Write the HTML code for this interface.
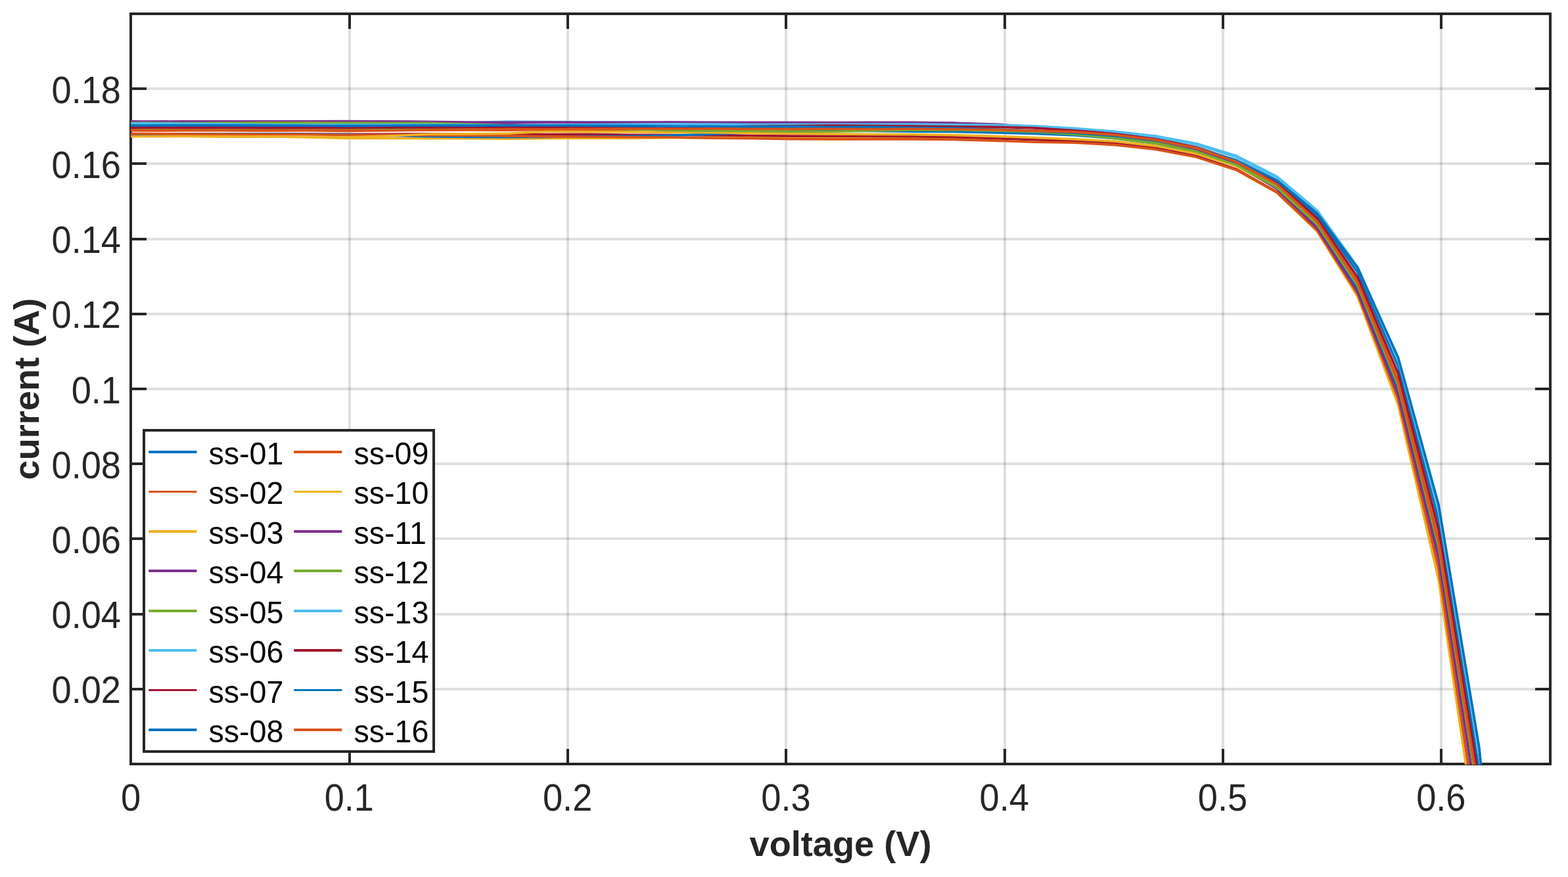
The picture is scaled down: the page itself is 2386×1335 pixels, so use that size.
<!DOCTYPE html>
<html lang="en"><head><meta charset="utf-8"><title>I-V curves</title>
<style>html,body{margin:0;padding:0;background:#fff}body{width:2386px;height:1335px;overflow:hidden}svg{display:block}</style>
</head><body>
<svg width="2386" height="1335" viewBox="0 0 2386 1335" role="img" aria-label="I-V curves: current (A) versus voltage (V) for samples ss-01 to ss-16">
<rect width="2386" height="1335" fill="#fff"/>
<defs><clipPath id="ax"><rect x="199" y="21" width="2160" height="1143"/></clipPath></defs>
<g stroke="#262626" stroke-opacity="0.15" stroke-width="4" fill="none">
<line x1="532" y1="21" x2="532" y2="1163"/>
<line x1="864" y1="21" x2="864" y2="1163"/>
<line x1="1196" y1="21" x2="1196" y2="1163"/>
<line x1="1529" y1="21" x2="1529" y2="1163"/>
<line x1="1861" y1="21" x2="1861" y2="1163"/>
<line x1="2193" y1="21" x2="2193" y2="1163"/>
<line x1="199" y1="1049" x2="2359" y2="1049"/>
<line x1="199" y1="935" x2="2359" y2="935"/>
<line x1="199" y1="820" x2="2359" y2="820"/>
<line x1="199" y1="706" x2="2359" y2="706"/>
<line x1="199" y1="592" x2="2359" y2="592"/>
<line x1="199" y1="478" x2="2359" y2="478"/>
<line x1="199" y1="364" x2="2359" y2="364"/>
<line x1="199" y1="249" x2="2359" y2="249"/>
<line x1="199" y1="135" x2="2359" y2="135"/>
</g>
<g stroke="#262626" stroke-width="4" fill="none" stroke-linecap="butt">
<rect x="199" y="21" width="2160" height="1142"/>
<line x1="532" y1="1163" x2="532" y2="1140"/>
<line x1="532" y1="21" x2="532" y2="44"/>
<line x1="864" y1="1163" x2="864" y2="1140"/>
<line x1="864" y1="21" x2="864" y2="44"/>
<line x1="1196" y1="1163" x2="1196" y2="1140"/>
<line x1="1196" y1="21" x2="1196" y2="44"/>
<line x1="1529" y1="1163" x2="1529" y2="1140"/>
<line x1="1529" y1="21" x2="1529" y2="44"/>
<line x1="1861" y1="1163" x2="1861" y2="1140"/>
<line x1="1861" y1="21" x2="1861" y2="44"/>
<line x1="2193" y1="1163" x2="2193" y2="1140"/>
<line x1="2193" y1="21" x2="2193" y2="44"/>
<line x1="199" y1="1049" x2="223" y2="1049"/>
<line x1="2359" y1="1049" x2="2336" y2="1049"/>
<line x1="199" y1="935" x2="223" y2="935"/>
<line x1="2359" y1="935" x2="2336" y2="935"/>
<line x1="199" y1="820" x2="223" y2="820"/>
<line x1="2359" y1="820" x2="2336" y2="820"/>
<line x1="199" y1="706" x2="223" y2="706"/>
<line x1="2359" y1="706" x2="2336" y2="706"/>
<line x1="199" y1="592" x2="223" y2="592"/>
<line x1="2359" y1="592" x2="2336" y2="592"/>
<line x1="199" y1="478" x2="223" y2="478"/>
<line x1="2359" y1="478" x2="2336" y2="478"/>
<line x1="199" y1="364" x2="223" y2="364"/>
<line x1="2359" y1="364" x2="2336" y2="364"/>
<line x1="199" y1="249" x2="223" y2="249"/>
<line x1="2359" y1="249" x2="2336" y2="249"/>
<line x1="199" y1="135" x2="223" y2="135"/>
<line x1="2359" y1="135" x2="2336" y2="135"/>
</g>
<g clip-path="url(#ax)" fill="none" stroke-width="3.6" stroke-linejoin="round">
<polyline stroke="#0072BD" points="196.0,191.6 218.8,191.8 280.4,191.7 342.0,191.7 403.6,191.7 465.2,191.5 526.8,192.1 588.4,191.8 650.0,191.2 711.6,191.1 773.2,191.0 834.8,191.3 896.4,191.9 958.0,192.2 1019.6,192.9 1081.2,192.7 1142.8,193.2 1204.4,193.6 1266.0,193.5 1327.6,194.3 1389.2,195.1 1450.8,195.5 1512.4,197.2 1574.0,199.2 1635.6,202.5 1697.2,207.5 1758.8,214.3 1820.4,225.7 1881.6,244.5 1942.8,275.8 2004.3,327.9 2066.0,414.7 2127.6,557.8 2189.2,792.2 2250.8,1172.1 2312.4,1776.5"/>
<polyline stroke="#D95319" points="196.0,198.6 218.8,198.9 280.4,198.8 342.0,198.7 403.6,198.9 465.2,198.8 526.8,199.4 588.4,198.5 650.0,198.3 711.6,198.0 773.2,198.3 834.8,197.4 896.4,197.2 958.0,197.1 1019.6,196.9 1081.2,197.4 1142.8,197.3 1204.4,196.9 1266.0,196.9 1327.6,197.3 1389.2,197.3 1450.8,198.2 1512.4,198.7 1574.0,201.0 1635.6,203.4 1697.2,208.1 1758.8,215.3 1820.4,227.4 1881.6,247.5 1942.8,280.8 2004.3,336.4 2066.0,428.5 2127.6,578.9 2189.2,821.4 2250.8,1203.1 2312.4,1785.2"/>
<polyline stroke="#EDB120" points="196.0,206.7 218.8,207.2 280.4,207.2 342.0,207.4 403.6,208.0 465.2,208.8 526.8,210.4 588.4,210.5 650.0,210.7 711.6,210.7 773.2,211.2 834.8,210.8 896.4,210.5 958.0,210.5 1019.6,209.7 1081.2,209.6 1142.8,209.6 1204.4,209.5 1266.0,209.4 1327.6,209.7 1389.2,209.8 1450.8,209.4 1512.4,210.6 1574.0,212.1 1635.6,215.1 1697.2,219.6 1758.8,226.6 1820.4,238.5 1881.6,258.8 1942.8,293.3 2004.3,352.2 2066.0,451.8 2127.6,616.6 2189.2,883.4 2250.8,1300.7"/>
<polyline stroke="#7E2F8E" points="196.0,185.2 218.8,185.6 280.4,185.5 342.0,185.1 403.6,185.1 465.2,185.3 526.8,185.2 588.4,185.1 650.0,185.8 711.6,186.7 773.2,187.2 834.8,186.2 896.4,186.5 958.0,186.6 1019.6,186.2 1081.2,186.7 1142.8,186.9 1204.4,186.5 1266.0,186.7 1327.6,187.0 1389.2,186.9 1450.8,187.4 1512.4,190.1 1574.0,193.0 1635.6,197.3 1697.2,204.0 1758.8,212.9 1820.4,227.3 1881.6,250.2 1942.8,286.8 2004.3,346.0 2066.0,441.4 2127.6,594.5 2189.2,840.8 2250.8,1236.6 2312.4,1873.0"/>
<polyline stroke="#77AC30" points="196.0,196.6 218.8,196.5 280.4,196.7 342.0,196.7 403.6,196.3 465.2,196.3 526.8,196.8 588.4,196.5 650.0,196.2 711.6,196.2 773.2,196.0 834.8,196.3 896.4,196.2 958.0,196.5 1019.6,196.2 1081.2,196.3 1142.8,196.7 1204.4,197.0 1266.0,196.8 1327.6,196.7 1389.2,197.2 1450.8,197.6 1512.4,198.6 1574.0,199.8 1635.6,202.3 1697.2,206.1 1758.8,213.5 1820.4,225.9 1881.6,246.5 1942.8,280.5 2004.3,336.9 2066.0,430.2 2127.6,582.1 2189.2,825.8 2250.8,1207.8 2312.4,1787.2"/>
<polyline stroke="#4DBEEE" points="196.0,187.9 218.8,187.9 280.4,188.8 342.0,189.8 403.6,190.5 465.2,190.7 526.8,190.4 588.4,189.9 650.0,189.0 711.6,186.6 773.2,185.0 834.8,185.5 896.4,185.8 958.0,186.2 1019.6,187.1 1081.2,188.0 1142.8,189.0 1204.4,189.8 1266.0,190.3 1327.6,190.2 1389.2,190.4 1450.8,190.5 1512.4,191.1 1574.0,193.2 1635.6,196.5 1697.2,201.7 1758.8,208.7 1820.4,220.3 1881.6,239.3 1942.8,270.6 2004.3,322.2 2066.0,407.5 2127.6,546.9 2189.2,773.8 2250.8,1139.8 2312.4,1721.2"/>
<polyline stroke="#A2142F" points="196.0,204.0 218.8,204.1 280.4,203.9 342.0,203.7 403.6,203.8 465.2,204.1 526.8,204.4 588.4,204.4 650.0,203.7 711.6,204.2 773.2,204.3 834.8,204.5 896.4,204.3 958.0,205.2 1019.6,205.5 1081.2,206.0 1142.8,206.5 1204.4,207.1 1266.0,207.1 1327.6,207.5 1389.2,207.8 1450.8,208.7 1512.4,210.4 1574.0,212.7 1635.6,214.6 1697.2,218.1 1758.8,225.2 1820.4,237.4 1881.6,257.8 1942.8,292.1 2004.3,350.1 2066.0,447.1 2127.6,606.8 2189.2,865.4 2250.8,1272.3 2312.4,1888.2"/>
<polyline stroke="#0072BD" points="196.0,203.6 218.8,204.1 280.4,203.8 342.0,203.8 403.6,203.9 465.2,204.2 526.8,204.8 588.4,206.2 650.0,207.7 711.6,208.5 773.2,208.8 834.8,208.4 896.4,207.5 958.0,207.6 1019.6,206.3 1081.2,204.1 1142.8,202.3 1204.4,200.0 1266.0,199.2 1327.6,199.4 1389.2,200.2 1450.8,200.4 1512.4,201.9 1574.0,203.4 1635.6,206.0 1697.2,210.8 1758.8,218.4 1820.4,231.0 1881.6,251.9 1942.8,286.6 2004.3,344.2 2066.0,439.2 2127.6,593.9 2189.2,841.9 2250.8,1230.0 2312.4,1816.8"/>
<polyline stroke="#D95319" points="196.0,203.6 218.8,203.6 280.4,204.1 342.0,204.2 403.6,204.5 465.2,204.8 526.8,205.5 588.4,205.5 650.0,205.9 711.6,206.2 773.2,206.9 834.8,207.9 896.4,208.3 958.0,208.7 1019.6,209.0 1081.2,210.3 1142.8,210.8 1204.4,211.8 1266.0,211.9 1327.6,211.9 1389.2,211.9 1450.8,212.4 1512.4,214.1 1574.0,216.3 1635.6,217.3 1697.2,220.6 1758.8,227.4 1820.4,239.1 1881.6,258.9 1942.8,292.7 2004.3,350.0 2066.0,446.8 2127.6,606.8 2189.2,866.0 2250.8,1271.9 2312.4,1879.6"/>
<polyline stroke="#EDB120" points="196.0,207.7 218.8,207.8 280.4,207.5 342.0,208.2 403.6,208.0 465.2,208.4 526.8,209.1 588.4,207.0 650.0,204.2 711.6,203.9 773.2,203.2 834.8,200.0 896.4,200.5 958.0,200.7 1019.6,201.5 1081.2,201.8 1142.8,202.6 1204.4,203.2 1266.0,204.0 1327.6,204.5 1389.2,204.7 1450.8,205.6 1512.4,207.4 1574.0,209.5 1635.6,211.9 1697.2,215.2 1758.8,222.1 1820.4,233.7 1881.6,253.3 1942.8,286.1 2004.3,341.3 2066.0,433.6 2127.6,585.4 2189.2,831.7 2250.8,1221.1 2312.4,1815.4"/>
<polyline stroke="#7E2F8E" points="196.0,184.8 218.8,185.1 280.4,184.8 342.0,184.7 403.6,184.9 465.2,184.9 526.8,184.5 588.4,184.9 650.0,185.3 711.6,186.0 773.2,186.3 834.8,186.0 896.4,186.3 958.0,186.4 1019.6,186.1 1081.2,186.2 1142.8,186.4 1204.4,186.6 1266.0,186.6 1327.6,186.4 1389.2,186.2 1450.8,187.2 1512.4,189.0 1574.0,193.0 1635.6,197.2 1697.2,203.3 1758.8,212.3 1820.4,226.7 1881.6,249.8 1942.8,286.9 2004.3,347.1 2066.0,444.4 2127.6,600.4 2189.2,849.5 2250.8,1244.4 2312.4,1862.7"/>
<polyline stroke="#77AC30" points="196.0,187.3 218.8,187.1 280.4,187.6 342.0,187.1 403.6,186.9 465.2,186.9 526.8,187.1 588.4,187.3 650.0,187.3 711.6,189.1 773.2,190.8 834.8,192.8 896.4,194.7 958.0,196.7 1019.6,198.4 1081.2,199.1 1142.8,199.4 1204.4,200.1 1266.0,200.3 1327.6,199.0 1389.2,198.0 1450.8,197.8 1512.4,199.0 1574.0,200.4 1635.6,204.5 1697.2,210.6 1758.8,218.1 1820.4,230.6 1881.6,251.1 1942.8,285.1 2004.3,341.5 2066.0,434.8 2127.6,586.8 2189.2,831.7 2250.8,1218.1 2312.4,1810.0"/>
<polyline stroke="#4DBEEE" points="196.0,187.7 218.8,187.7 280.4,188.3 342.0,188.9 403.6,189.7 465.2,190.1 526.8,190.0 588.4,189.9 650.0,189.7 711.6,190.4 773.2,190.9 834.8,190.3 896.4,189.8 958.0,189.4 1019.6,188.8 1081.2,189.1 1142.8,189.6 1204.4,189.5 1266.0,189.3 1327.6,189.2 1389.2,189.1 1450.8,189.8 1512.4,190.4 1574.0,191.7 1635.6,195.3 1697.2,200.2 1758.8,207.1 1820.4,218.5 1881.6,237.3 1942.8,268.5 2004.3,320.4 2066.0,406.5 2127.6,548.0 2189.2,778.4 2250.8,1148.6 2312.4,1730.8"/>
<polyline stroke="#A2142F" points="196.0,194.7 218.8,194.2 280.4,194.4 342.0,194.3 403.6,194.8 465.2,194.5 526.8,194.4 588.4,194.1 650.0,194.0 711.6,193.7 773.2,193.6 834.8,193.8 896.4,194.2 958.0,194.4 1019.6,193.7 1081.2,193.5 1142.8,192.3 1204.4,191.9 1266.0,191.1 1327.6,191.6 1389.2,192.0 1450.8,192.8 1512.4,193.2 1574.0,194.9 1635.6,198.9 1697.2,204.2 1758.8,211.8 1820.4,224.3 1881.6,244.6 1942.8,277.8 2004.3,332.5 2066.0,422.3 2127.6,568.8 2189.2,806.6 2250.8,1189.3 2312.4,1797.4"/>
<polyline stroke="#0072BD" points="196.0,191.0 218.8,191.0 280.4,190.8 342.0,190.7 403.6,191.1 465.2,191.2 526.8,191.6 588.4,191.3 650.0,191.0 711.6,191.1 773.2,191.0 834.8,190.9 896.4,191.3 958.0,191.6 1019.6,192.1 1081.2,192.2 1142.8,192.8 1204.4,192.6 1266.0,193.5 1327.6,193.4 1389.2,194.6 1450.8,195.1 1512.4,197.0 1574.0,199.1 1635.6,202.4 1697.2,207.0 1758.8,214.0 1820.4,225.4 1881.6,244.0 1942.8,274.5 2004.3,324.9 2066.0,407.9 2127.6,544.3 2189.2,768.6 2250.8,1137.5 2312.4,1744.1"/>
<polyline stroke="#D95319" points="196.0,198.0 218.8,198.3 280.4,198.2 342.0,198.3 403.6,198.6 465.2,198.3 526.8,198.5 588.4,198.7 650.0,198.0 711.6,197.2 773.2,196.6 834.8,196.8 896.4,196.3 958.0,196.0 1019.6,196.2 1081.2,196.0 1142.8,196.4 1204.4,196.4 1266.0,196.3 1327.6,196.5 1389.2,196.2 1450.8,196.8 1512.4,197.5 1574.0,199.1 1635.6,200.9 1697.2,205.4 1758.8,212.9 1820.4,225.5 1881.6,246.2 1942.8,280.3 2004.3,337.0 2066.0,430.3 2127.6,582.0 2189.2,825.5 2250.8,1208.0 2312.4,1790.6"/>
</g>
<g font-family="'Liberation Sans', sans-serif" font-size="54.17px" fill="#262626">
<text transform="translate(199.0,1234) scale(1,1.05)" text-anchor="middle">0</text>
<text transform="translate(531.3,1234) scale(1,1.05)" text-anchor="middle">0.1</text>
<text transform="translate(863.6,1234) scale(1,1.05)" text-anchor="middle">0.2</text>
<text transform="translate(1195.9,1234) scale(1,1.05)" text-anchor="middle">0.3</text>
<text transform="translate(1528.2,1234) scale(1,1.05)" text-anchor="middle">0.4</text>
<text transform="translate(1860.5,1234) scale(1,1.05)" text-anchor="middle">0.5</text>
<text transform="translate(2192.8,1234) scale(1,1.05)" text-anchor="middle">0.6</text>
<text transform="translate(184,1070.3) scale(1,1.05)" text-anchor="end">0.02</text>
<text transform="translate(184,956.1) scale(1,1.05)" text-anchor="end">0.04</text>
<text transform="translate(184,841.9) scale(1,1.05)" text-anchor="end">0.06</text>
<text transform="translate(184,727.7) scale(1,1.05)" text-anchor="end">0.08</text>
<text transform="translate(184,613.5) scale(1,1.05)" text-anchor="end">0.1</text>
<text transform="translate(184,499.3) scale(1,1.05)" text-anchor="end">0.12</text>
<text transform="translate(184,385.1) scale(1,1.05)" text-anchor="end">0.14</text>
<text transform="translate(184,270.9) scale(1,1.05)" text-anchor="end">0.16</text>
<text transform="translate(184,156.7) scale(1,1.05)" text-anchor="end">0.18</text>
<text x="1279" y="1303" text-anchor="middle" font-weight="bold">voltage (V)</text>
<text transform="translate(59,592) rotate(-90)" text-anchor="middle" font-weight="bold">current (A)</text>
</g>
<rect x="219" y="655" width="441" height="489" fill="#fff" stroke="#262626" stroke-width="4"/>
<g font-family="'Liberation Sans', sans-serif" font-size="46.6px" fill="#000">
<rect x="226.2" y="686" width="73.2" height="4" fill="#0072BD"/>
<text transform="translate(317.5,707.0) scale(1,1.03)">ss-01</text>
<rect x="226.2" y="747" width="73.2" height="3" fill="#D95319"/>
<text transform="translate(317.5,767.4) scale(1,1.03)">ss-02</text>
<rect x="226.2" y="807" width="73.2" height="4" fill="#EDB120"/>
<text transform="translate(317.5,827.9) scale(1,1.03)">ss-03</text>
<rect x="226.2" y="867" width="73.2" height="4" fill="#7E2F8E"/>
<text transform="translate(317.5,888.3) scale(1,1.03)">ss-04</text>
<rect x="226.2" y="928" width="73.2" height="4" fill="#77AC30"/>
<text transform="translate(317.5,948.7) scale(1,1.03)">ss-05</text>
<rect x="226.2" y="988" width="73.2" height="4" fill="#4DBEEE"/>
<text transform="translate(317.5,1009.1) scale(1,1.03)">ss-06</text>
<rect x="226.2" y="1049" width="73.2" height="3" fill="#A2142F"/>
<text transform="translate(317.5,1069.6) scale(1,1.03)">ss-07</text>
<rect x="226.2" y="1109" width="73.2" height="4" fill="#0072BD"/>
<text transform="translate(317.5,1130.0) scale(1,1.03)">ss-08</text>
<rect x="447.2" y="686" width="73.2" height="4" fill="#D95319"/>
<text transform="translate(538.5,707.0) scale(1,1.03)">ss-09</text>
<rect x="447.2" y="747" width="73.2" height="3" fill="#EDB120"/>
<text transform="translate(538.5,767.4) scale(1,1.03)">ss-10</text>
<rect x="447.2" y="807" width="73.2" height="4" fill="#7E2F8E"/>
<text transform="translate(538.5,827.9) scale(1,1.03)">ss-11</text>
<rect x="447.2" y="867" width="73.2" height="4" fill="#77AC30"/>
<text transform="translate(538.5,888.3) scale(1,1.03)">ss-12</text>
<rect x="447.2" y="928" width="73.2" height="4" fill="#4DBEEE"/>
<text transform="translate(538.5,948.7) scale(1,1.03)">ss-13</text>
<rect x="447.2" y="988" width="73.2" height="4" fill="#A2142F"/>
<text transform="translate(538.5,1009.1) scale(1,1.03)">ss-14</text>
<rect x="447.2" y="1049" width="73.2" height="3" fill="#0072BD"/>
<text transform="translate(538.5,1069.6) scale(1,1.03)">ss-15</text>
<rect x="447.2" y="1109" width="73.2" height="4" fill="#D95319"/>
<text transform="translate(538.5,1130.0) scale(1,1.03)">ss-16</text>
</g>
</svg>
</body></html>
